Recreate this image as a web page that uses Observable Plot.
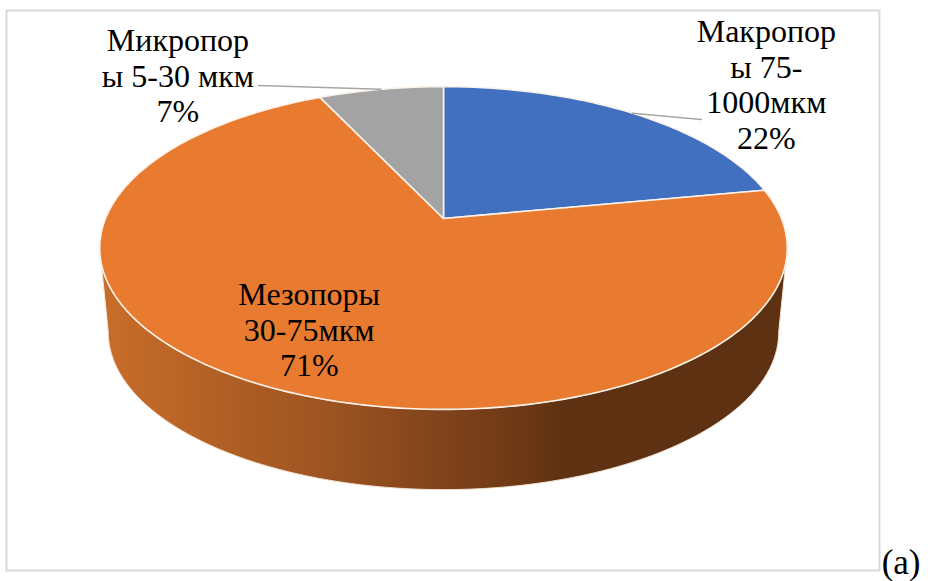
<!DOCTYPE html>
<html>
<head>
<meta charset="utf-8">
<script src="https://cdn.jsdelivr.net/npm/d3@7"></script>
<script src="https://cdn.jsdelivr.net/npm/@observablehq/plot@0.6"></script>
<style>
  html, body { margin: 0; padding: 0; background: #fff; }
  svg { display: block; }
</style>
</head>
<body>
<div id="chart"></div>
<script>
// Data, clockwise from 12 o'clock
const categories = ["Макропоры", "Мезопоры", "Микропоры"];
const labelTexts = ["Макропор\nы 75-\n1000мкм", "Мезопоры\n30-75мкм", "Микропор\nы 5-30 мкм"];
const percents = [22, 71, 7];

// Styles
const sliceColors = ["#4270c0", "#e97b30", "#a3a3a3"];
const wallStops = [
  [0, "#c96e2b"], [0.195, "#af5e24"], [0.34, "#9c5321"],
  [0.485, "#82441b"], [0.626, "#6b3715"], [0.68, "#5e3112"], [1, "#5e3112"]
];
const labelOffsets = [[134, -29], [49, -55], [-203, -14]]; // px from each slice's rim midpoint
const leaderEnds = [[0.763, 0.635], null, [-0.547, 0.853]]; // in disc units

// Perspective of the tilted disc
const k = 0.1827;         // foreshortening
const baseScale = 0.975;  // the lower rim looks a little smaller
const baseDrop = 0.545;   // drop of the lower rim, disc units
const project = (turn, r = 1) => {
  const a = turn * 2 * Math.PI;
  const u = r * Math.sin(a), v = r * Math.cos(a), w = 1 + k * v;
  return [u / w, v / w];
};

const total = d3.sum(percents);
const cumul = d3.cumsum(percents).map((c) => c / total);
const spans = percents.map((_, i) => [i ? cumul[i - 1] : 0, cumul[i]]);
const midTurn = spans.map(([a, b]) => (a + b) / 2);

// Slices as outlined rim arcs + centre point
const slicePoints = categories.flatMap((name, i) => {
  const [a, b] = spans[i];
  const n = Math.max(2, Math.ceil((b - a) * 360));
  const arc = d3.range(n + 1).map((j) => project(a + (b - a) * j / n));
  return [[0, 0], ...arc].map(([x, y]) => ({ name, x, y }));
});

// Wall: visible front of the rim, between the two silhouette tangents
const tv = -k; // v at the widest point of the projected rim
const tTurn = Math.acos(tv) / (2 * Math.PI);
const frontTurns = d3.range(0, 361).map((j) => tTurn + (1 - 2 * tTurn) * j / 360);
const wallPoints = [
  ...frontTurns.map((t) => { const [x, y] = project(t); return { x, y }; }),
  ...frontTurns.slice().reverse().map((t) => {
    const [x, y] = project(t);
    return { x: x * baseScale, y: y * baseScale - baseDrop };
  })
];

// Leader lines
const leaders = categories.flatMap((name, i) => {
  if (!leaderEnds[i]) return [];
  const [x, y] = project(midTurn[i]);
  return [{ name, x, y }, { name, x: leaderEnds[i][0], y: leaderEnds[i][1] }];
});

const gradient = () => {
  const defs = d3.create("svg:defs");
  const g = defs.append("linearGradient").attr("id", "wall");
  wallStops.forEach(([o, c]) => g.append("stop").attr("offset", o).attr("stop-color", c));
  return defs.node();
};

const serif = "'Liberation Serif', 'Times New Roman', serif";
const labelMarks = categories.map((name, i) => {
  const [x, y] = project(midTurn[i]);
  return Plot.text([{ x, y, t: `${labelTexts[i]}\n${percents[i]}%` }], {
    x: "x", y: "y", text: "t",
    dx: labelOffsets[i][0], dy: labelOffsets[i][1],
    fontFamily: serif, fontSize: 32, lineHeight: 1.11, fill: "#000", textAnchor: "middle"
  });
});

const chart = Plot.plot({
  width: 928, height: 581,
  marginLeft: 6, marginTop: 10, marginRight: 49, marginBottom: 11,
  x: { domain: [-1, 1], range: [105, 781], axis: null },
  y: { domain: [-1, 1], range: [374, 62], axis: null },
  color: { domain: categories, range: sliceColors },
  marks: [
    gradient,
    Plot.frame({ stroke: "#d9d9d9", strokeWidth: 2 }),
    Plot.line(wallPoints, { x: "x", y: "y", curve: "linear-closed", fill: "url(#wall)", stroke: "#f3e3d3", strokeWidth: 1 }),
    Plot.line(slicePoints, { x: "x", y: "y", z: "name", fill: "name", curve: "linear-closed", stroke: "#fbf3ea", strokeWidth: 1.6, strokeLinejoin: "round" }),
    Plot.line(leaders, { x: "x", y: "y", z: "name", stroke: "#a6a6a6", strokeWidth: 1.5 }),
    ...labelMarks,
    Plot.text(["(a)"], { frameAnchor: "bottom-right", dx: 41, dy: 3, textAnchor: "end", fontFamily: serif, fontSize: 35, fill: "#000" })
  ]
});
document.getElementById("chart").appendChild(chart);
</script>
</body>
</html>
